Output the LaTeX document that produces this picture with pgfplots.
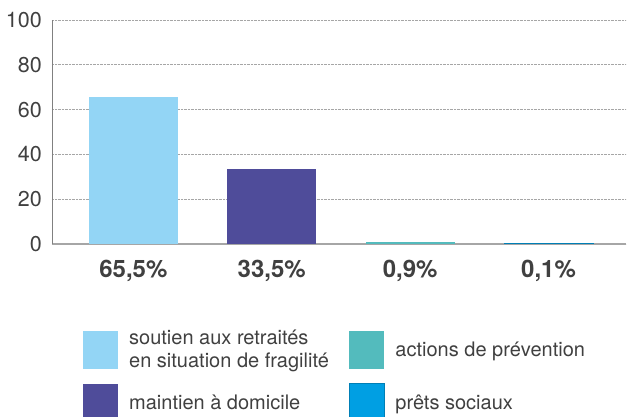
\documentclass[border=0pt]{standalone}
\usepackage{pgfplots}
\pgfplotsset{compat=1.18}
\usepackage{fontspec}
\setmainfont{TeX Gyre Heros}
\definecolor{c1}{HTML}{93D5F5}
\definecolor{c2}{HTML}{4F4C9A}
\definecolor{c3}{HTML}{53BBBD}
\definecolor{c4}{HTML}{009FE3}
\definecolor{txt}{HTML}{404040}
\pgfplotsset{sq/.style={legend image code/.code={\fill[##1] (0pt,-19pt) rectangle (35pt,19pt);}}}
\begin{document}
\begin{tikzpicture}
\useasboundingbox (0,0) rectangle (630pt,417pt);
\begin{axis}[
  at={(52pt,173pt)}, anchor=south west,
  scale only axis, width=574pt, height=224pt,
  /pgf/number format/assume math mode=true,
  ymin=0, ymax=100, ytick={0,20,...,100},
  xmin=-0.588, xmax=3.56,
  xtick={0,1,2,3},
  xticklabels={{65,5\%},{33,5\%},{0,9\%},{0,1\%}},
  axis x line*=bottom, axis y line*=left,
  x axis line style={-, draw=black!35, line width=1.5pt},
  y axis line style={-, draw=black!50, line width=0.8pt},
  ybar, bar width=89pt, bar shift=0pt,
  ymajorgrids, grid style={densely dotted, black!35, line width=0.7pt},
  major tick length=0pt,
  yticklabel style={font=\fontsize{21.5}{21.5}\selectfont, text=txt, inner sep=0pt, anchor=east},
  yticklabel shift=10pt,
  xticklabel style={font=\fontsize{24}{24}\selectfont\bfseries, text=txt, inner sep=0pt, anchor=north},
  xticklabel shift=16pt,
  legend columns=2, transpose legend,
  legend style={at={(0.054,-0.384)}, anchor=north west, draw=none, fill=none, inner sep=0pt,
    font=\fontsize{20}{23}\selectfont, text=txt,
    cells={anchor=west, align=left}, nodes={inner sep=0pt},
    /tikz/every odd column/.style={column sep=11pt},
    /tikz/every even column/.style={column sep=20pt},
    row sep=14pt},
]
\addplot[fill=c1, draw=none, sq] coordinates {(0,65.5)};
\addlegendentry{soutien aux retraités\\en situation de fragilité}
\addplot[fill=c2, draw=none, sq] coordinates {(1,33.5)};
\addlegendentry{maintien à domicile}
\addplot[fill=c3, draw=none, sq] coordinates {(2,0.9)};
\addlegendentry{actions de prévention}
\addplot[fill=c4, draw=c4!80!black, line width=0.6pt, sq] coordinates {(3,0.1)};
\addlegendentry{prêts sociaux}
\end{axis}
\end{tikzpicture}
\end{document}
